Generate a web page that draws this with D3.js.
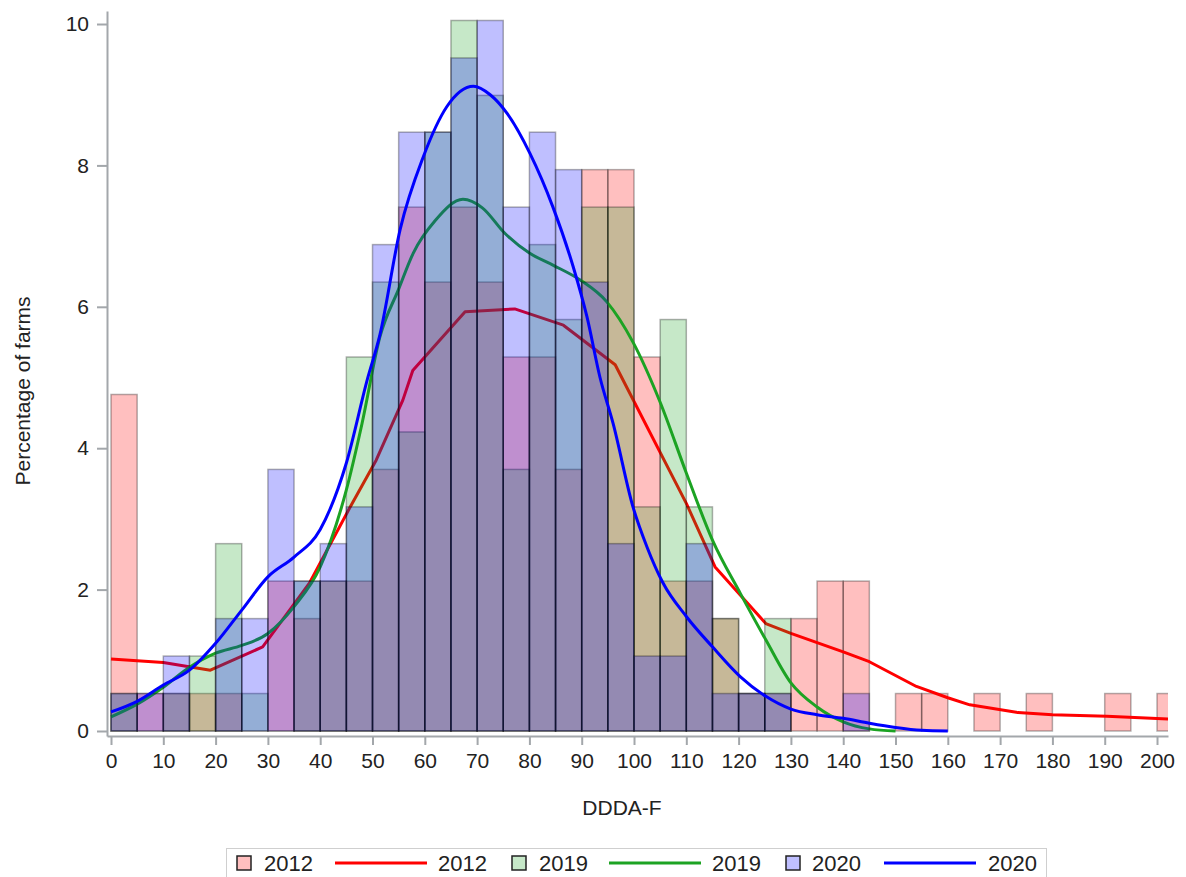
<!DOCTYPE html>
<html>
<head>
<meta charset="utf-8">
<script src="https://cdn.jsdelivr.net/npm/d3@7"></script>
<style>
  body { margin: 0; background: #fff; }
  text { font-family: "Liberation Sans", Arial, sans-serif; fill: #222; }
</style>
</head>
<body>
<svg id="chart" width="1186" height="877"></svg>
<script>
// Histogram bins (lower edge of each 5-unit bin)
const binStart = [0,5,10,15,20,25,30,35,40,45,50,55,60,65,70,75,80,85,90,95,100,
                  105,110,115,120,125,130,135,140,145,150,155,160,165,170,175,180,185,190,195,200];
const binWidth = 5;

// Percentage of farms per bin
const pct2012 = [4.76,0.53,0.53,0.53,0.53,0,2.12,1.59,2.12,2.12,3.70,7.41,6.35,7.41,6.35,5.29,5.29,3.70,7.94,7.94,5.29,
                 2.12,2.12,1.59,0.53,0.53,1.59,2.12,2.12,0,0.53,0.53,0,0.53,0,0.53,0,0,0.53,0,0.53];
const pct2019 = [0.53,0,0.53,1.06,2.65,0.53,0,2.12,2.12,5.29,6.35,4.23,8.47,10.05,8.99,3.70,6.88,5.82,7.41,7.41,3.17,
                 5.82,3.17,1.59,0.53,1.59,0,0,0,0,0,0,0,0,0,0,0,0,0,0,0];
const pct2020 = [0.53,0.53,1.06,0,1.59,1.59,3.70,2.12,2.65,3.17,6.88,8.47,8.47,9.52,10.05,7.41,8.47,7.94,6.35,2.65,1.06,
                 1.06,2.65,0.53,0.53,0.53,0,0,0.53,0,0,0,0,0,0,0,0,0,0,0,0];

// Density curves (DDDA-F value, percentage)
const dens2012X = [0,10,19,29,38,45.6,50.7,55.8,57.7,67.7,77.2,86.5,96.4,110,115.5,125.2,130,140,145,154,160,164.2,173.4,180,190.4,202.1];
const dens2012Y = [1.02,0.97,0.86,1.19,2.10,3.15,3.83,4.68,5.10,5.93,5.97,5.74,5.18,3.22,2.32,1.52,1.38,1.12,0.98,0.63,0.47,0.37,0.26,0.23,0.21,0.17];

const dens2019X = [0,5,10,15,20,25,30,35,40,45,48,51.4,55,57.8,62,67.3,71,75.3,80,84.5,89.7,94.8,99.8,105,110,115,120.3,125.2,130,135,140,145,150];
const dens2019Y = [0.20,0.38,0.62,0.90,1.10,1.21,1.38,1.76,2.32,3.41,4.35,5.57,6.25,6.76,7.22,7.52,7.40,7.04,6.76,6.59,6.38,6.07,5.50,4.65,3.65,2.70,1.95,1.29,0.68,0.34,0.13,0.03,0.0];

const dens2020X = [0,5,10,15,20,25,30,35,40,45,49,51.4,55.3,59.7,64.2,69.3,72.5,75.7,80.1,84.5,88.4,91,93.5,96,99.8,102.5,105.5,110,115,120.3,125.2,130,135,140,145,150,155,160];
const dens2020Y = [0.27,0.42,0.65,0.86,1.24,1.71,2.18,2.46,2.85,3.79,4.97,5.60,7.10,8.12,8.83,9.12,9.00,8.74,8.17,7.41,6.56,5.86,5.00,4.35,3.17,2.60,2.10,1.62,1.19,0.77,0.49,0.31,0.23,0.18,0.11,0.05,0.01,0.0];

const yTicks = [0,2,4,6,8,10];
const xTicks = [0,10,20,30,40,50,60,70,80,90,100,110,120,130,140,150,160,170,180,190,200];

const series = [
  { name: "2012", pct: pct2012, dx: dens2012X, dy: dens2012Y, color: "#ff0000", curve: d3.curveLinear },
  { name: "2019", pct: pct2019, dx: dens2019X, dy: dens2019Y, color: "#1ca323", curve: d3.curveMonotoneX },
  { name: "2020", pct: pct2020, dx: dens2020X, dy: dens2020Y, color: "#0000ff", curve: d3.curveMonotoneX }
];

const svg = d3.select("#chart");
const plotL = 107, plotR = 1168, plotT = 11, plotB = 736;

const x = d3.scaleLinear().domain([-0.765, 202.1]).range([plotL, plotR]);
const y = d3.scaleLinear().domain([-0.0707, 10.184]).range([plotB, plotT]);

svg.append("defs").append("clipPath").attr("id", "plotClip")
  .append("rect").attr("x", plotL).attr("y", plotT).attr("width", plotR - plotL).attr("height", plotB - plotT);

const plot = svg.append("g").attr("clip-path", "url(#plotClip)");

// Bars and density line of each year, layered in order
series.forEach(s => {
  const bars = binStart.map((b, i) => ({ b, v: s.pct[i] })).filter(d => d.v > 0);
  plot.append("g").selectAll("rect").data(bars).join("rect")
    .attr("x", d => x(d.b))
    .attr("y", d => y(d.v))
    .attr("width", d => x(d.b + binWidth) - x(d.b))
    .attr("height", d => y(0) - y(d.v))
    .attr("fill", s.color).attr("fill-opacity", 0.25)
    .attr("stroke", "#000").attr("stroke-opacity", 0.3).attr("stroke-width", 1.5);

  const pts = s.dx.map((v, i) => [v, s.dy[i]]);
  plot.append("path").datum(pts)
    .attr("fill", "none").attr("stroke", s.color).attr("stroke-width", 3)
    .attr("stroke-linejoin", "round")
    .attr("d", d3.line().x(d => x(d[0])).y(d => y(d[1])).curve(s.curve));
});

// Axes
const axisColor = "#a3a7ab";
const yAxis = svg.append("g").attr("transform", `translate(${plotL},0)`)
  .call(d3.axisLeft(y).tickValues(yTicks).tickSize(10).tickSizeOuter(0).tickPadding(8));
const xAxis = svg.append("g").attr("transform", `translate(0,${plotB})`)
  .call(d3.axisBottom(x).tickValues(xTicks).tickSize(9).tickSizeOuter(0).tickPadding(8));
[yAxis, xAxis].forEach(a => {
  a.selectAll("path.domain").attr("stroke", axisColor).attr("stroke-width", 2);
  a.selectAll(".tick line").attr("stroke", axisColor).attr("stroke-width", 2);
  a.selectAll(".tick text").style("font-size", "21px").style("font-family", "'Liberation Sans', Arial, sans-serif").attr("fill", "#222");
});

// Axis titles
svg.append("text").attr("transform", "translate(30,391) rotate(-90)")
  .attr("text-anchor", "middle").style("font-size", "21px").text("Percentage of farms");
svg.append("text").attr("x", 622).attr("y", 815)
  .attr("text-anchor", "middle").style("font-size", "21px").text("DDDA-F");

// Legend
const lg = svg.append("g");
lg.append("rect").attr("x", 226.5).attr("y", 848.5).attr("width", 820).attr("height", 40)
  .attr("fill", "none").attr("stroke", "#cfcfcf").attr("stroke-width", 1);
const ly = 863;
const legendItems = [
  { type: "box", s: series[0], x: 237 }, { type: "text", t: "2012", x: 264 },
  { type: "line", s: series[0], x: 335 }, { type: "text", t: "2012", x: 438 },
  { type: "box", s: series[1], x: 512 }, { type: "text", t: "2019", x: 539 },
  { type: "line", s: series[1], x: 609 }, { type: "text", t: "2019", x: 712 },
  { type: "box", s: series[2], x: 786 }, { type: "text", t: "2020", x: 812 },
  { type: "line", s: series[2], x: 884 }, { type: "text", t: "2020", x: 988 }
];
legendItems.forEach(it => {
  if (it.type === "box") {
    lg.append("rect").attr("x", it.x).attr("y", ly - 7).attr("width", 14).attr("height", 14)
      .attr("fill", d3.interpolateRgb("#fff", it.s.color)(0.25))
      .attr("stroke", "#222").attr("stroke-width", 1.5);
  } else if (it.type === "line") {
    lg.append("line").attr("x1", it.x).attr("x2", it.x + 92).attr("y1", ly).attr("y2", ly)
      .attr("stroke", it.s.color).attr("stroke-width", 3);
  } else {
    lg.append("text").attr("x", it.x).attr("y", ly + 8).style("font-size", "22px").text(it.t);
  }
});
</script>
</body>
</html>
